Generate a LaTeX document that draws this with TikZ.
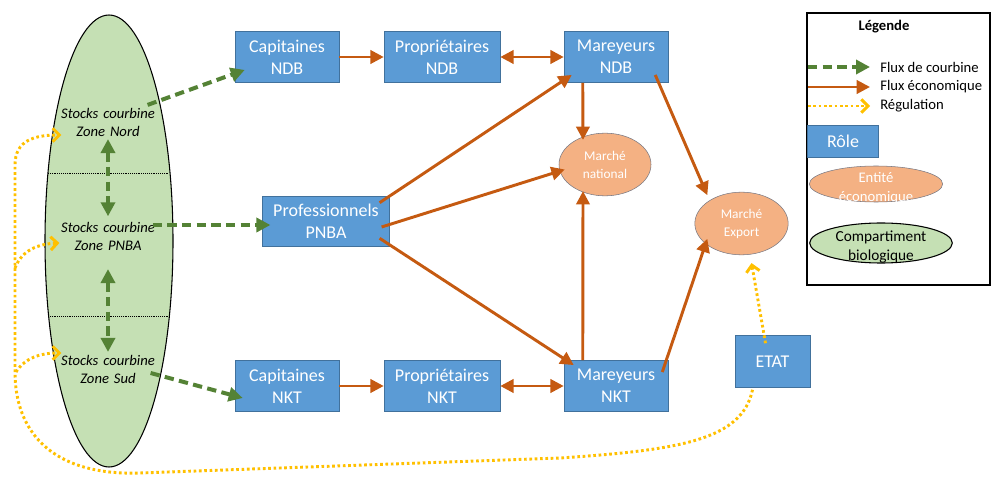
\documentclass[tikz,border=0pt]{standalone}
\usepackage{fontspec}
\setmainfont{Carlito}
\usetikzlibrary{calc,arrows.meta,shapes.geometric}
\definecolor{roleblue}{RGB}{91,155,213}
\definecolor{roleline}{RGB}{65,113,156}
\definecolor{ecoorange}{RGB}{197,90,17}
\definecolor{entityfill}{RGB}{244,177,131}
\definecolor{entityline}{RGB}{120,120,130}
\definecolor{biofill}{RGB}{197,224,180}
\definecolor{fluxgreen}{RGB}{84,130,53}
\definecolor{regyellow}{RGB}{255,192,0}

\tikzset{
	role/.style={draw=roleline,fill=roleblue,text=white,align=center,inner sep=0,font=\fontsize{13.5}{16.5}\selectfont,minimum height=38.5},
	entity/.style={ellipse,draw=entityline,fill=entityfill,text=white,align=center,inner sep=0,font=\fontsize{10}{13.5}\selectfont},
	stock/.style={align=center,text width=76pt,inner sep=2pt,font=\fontsize{11}{13.5}\selectfont\itshape},
	legtext/.style={anchor=west,inner sep=0,font=\fontsize{11}{14}\selectfont},
	flux/.style={draw=fluxgreen,line width=3pt,dash pattern=on 7pt off 4pt,-{Triangle[length=10.5pt,width=10.5pt]}},
	fluxboth/.style={flux,{Triangle[length=10.5pt,width=10.5pt]}-{Triangle[length=10.5pt,width=10.5pt]}},
	econ/.style={draw=ecoorange,line width=2.2pt,-{Triangle[length=10pt,width=10pt]}},
	econboth/.style={econ,{Triangle[length=10pt,width=10pt]}-{Triangle[length=10pt,width=10pt]}},
	regul/.style={draw=regyellow,line width=2.2pt,dash pattern=on 2pt off 2pt,-{Straight Barb[length=5pt,width=10pt]}}
}

\begin{document}
\begin{tikzpicture}[x=0.75pt,y=-0.75pt]
		\useasboundingbox (0,0) rectangle (992,477);
		% compartiment biologique
		\node (Stocks) at (109,241) [ellipse,draw,thick,fill=biofill,minimum width=96,minimum height=339] {};
		\draw[densely dotted] (48,173) -- (169,173);
		\draw[densely dotted] (48,316) -- (169,316);
		\node (StockNord) at (108,122) [stock] {Stocks courbine\\Zone Nord};
		\node (StockPNBA) at (108,236) [stock] {Stocks courbine\\Zone PNBA};
		\node (StockSud) at (108,369) [stock] {Stocks courbine\\Zone Sud};
		% roles
		\node (CapNDB) at (287,57) [role,minimum width=78] {Capitaines\\NDB};
		\node (PropNDB) at (442,57) [role,minimum width=87] {Propriétaires\\NDB};
		\node (MarNDB) at (616,57) [role,minimum width=78] {Mareyeurs\\NDB};
		\node (ProfPNBA) at (326,221) [role,minimum width=95,minimum height=37.5] {Professionnels\\PNBA};
		\node (CapNKT) at (287,386) [role,minimum width=78] {Capitaines\\NKT};
		\node (PropNKT) at (442,386) [role,minimum width=87] {Propriétaires\\NKT};
		\node (MarNKT) at (616,386) [role,minimum width=78] {Mareyeurs\\NKT};
		\node (ETAT) at (772.5,361.5) [role,minimum width=56,minimum height=39] {ETAT};
		% entites economiques
		\node (MarNat) at (605,164.5) [entity,minimum width=69,minimum height=47] {Marché\\national};
		\node (MarExp) at (741.5,223.5) [entity,minimum width=70,minimum height=47] {Marché\\Export};
		% flux de courbine
		\draw[fluxboth,shorten >=2pt] (StockNord) -- (StockPNBA);
		\draw[fluxboth,shorten <=12pt] (StockPNBA) -- (StockSud);
		\draw[flux] ($(StockNord.north east)+(-14,0)$) -- ($(CapNDB.south west)+(10,-13)$);
		\draw[flux] ($(StockPNBA.east)+(-9,-11)$) -- ($(ProfPNBA.west)+(8,4)$);
		\draw[flux] ($(StockSud.east)+(-11,4)$) -- ($(CapNKT.west)+(8,12)$);
		% flux economiques
		\draw[econ] (CapNDB) -- (PropNDB);
		\draw[econboth] (PropNDB) -- (MarNDB);
		\draw[econ] (CapNKT) -- (PropNKT);
		\draw[econboth] (PropNKT) -- (MarNKT);
		\draw[econ] ($(MarNDB.south west)+(19,0)$) -- ($(MarNat.north)+(-22,7)$);
		\draw[econ] ($(MarNKT.north west)+(19,0)$) -- ($(MarNat.south)+(-22,-5)$);
		\draw[econ] ($(ProfPNBA.north east)+(-10,7)$) -- ($(MarNDB.south west)+(8,-8)$);
		\draw[econ] ($(ProfPNBA.east)+(-8,6)$) -- ($(MarNat.west)+(6,5)$);
		\draw[econ] ($(ProfPNBA.south east)+(-10,-8)$) -- ($(MarNKT.north west)+(10,5)$);
		\draw[econ] ($(MarNDB.south east)+(-13,-8)$) -- ($(MarExp.north west)+(-1,-6)$);
		\draw[econ] ($(MarNKT.north east)+(-6,12)$) -- ($(MarExp.south west)+(-1,-7)$);
		% regulation
		\draw[regul] ($(ETAT.north)+(-7,8)$) -- ($(MarExp.south)+(10,8)$);
		\draw[regul] ($(ETAT.south)+(-20,2)$) .. controls (742,440) and (680,450) .. (560,458) -- (140,473) .. controls (50,476) and (15,430) .. (15,372) -- (15,165) .. controls (15,140) and (35,135) .. ($(StockNord.west)+(7,13)$);
		\coordinate (RgPNBA) at (15,268);
		\coordinate (RgSud) at (16,372);
		\draw[regul] (RgPNBA) .. controls (22,250) and (38,244) .. ($(StockPNBA.west)+(5,7)$);
		\draw[regul] (RgSud) .. controls (25,358) and (40,353) .. ($(StockSud.west)+(7,-16)$);
		% legende
		\draw[line width=1pt] (807,13) rectangle (990,285);
		\node (Leg) at (884,27) [font=\fontsize{11}{13}\selectfont\bfseries] {Légende};
		\coordinate (LgGa) at (808,67);
		\coordinate (LgGb) at (870,67);
		\coordinate (LgOa) at (808,87);
		\coordinate (LgOb) at (870,87);
		\coordinate (LgYa) at (808,106);
		\coordinate (LgYb) at (870,106);
		\draw[flux] (LgGa) -- (LgGb);
		\draw[econ] (LgOa) -- (LgOb);
		\draw[regul] (LgYa) -- (LgYb);
		\node (LgFlux) at (880,67) [legtext] {Flux de courbine};
		\node (LgEco) at (880,87) [legtext] {Flux économique};
		\node (LgReg) at (880,106) [legtext] {Régulation};
		\node (LgRole) at (843,141) [role,minimum width=53,minimum height=24] {Rôle};
		\node (LgEnt) at (876,184) [entity,minimum width=100,minimum height=27,label={[text=white,align=center,font=\fontsize{11}{14}\selectfont,yshift=-3]center:Entité\\économique}] {};
		\node (LgBio) at (881,243) [ellipse,draw,thick,fill=biofill,minimum width=107,minimum height=30,inner sep=0,label={[align=center,font=\fontsize{11.5}{14}\selectfont,yshift=-3]center:Compartiment\\biologique}] {};
	\end{tikzpicture}
\end{document}
